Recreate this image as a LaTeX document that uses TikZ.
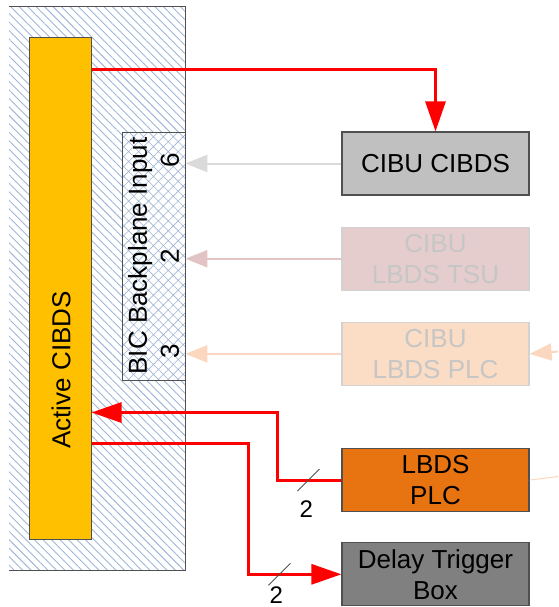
\documentclass[tikz,border=0pt]{standalone}
\usepackage{fontspec}
\setmainfont{Liberation Sans}
\usetikzlibrary{arrows.meta,positioning,patterns.meta}

\definecolor{hatchblue}{RGB}{160,182,214}
\definecolor{activeyellow}{RGB}{255,192,0}
\definecolor{sigred}{RGB}{255,0,0}
\definecolor{frameline}{RGB}{80,80,80}
\definecolor{cibdsgray}{RGB}{192,192,192}
\definecolor{tsupink}{RGB}{230,205,205}
\definecolor{plcpeach}{RGB}{251,220,197}
\definecolor{plcorange}{RGB}{232,116,17}
\definecolor{delaygray}{RGB}{128,128,128}
\definecolor{fadeline}{RGB}{210,210,210}
\definecolor{fadetext}{RGB}{198,198,198}
\definecolor{graywire}{RGB}{218,218,218}
\definecolor{pinkwire}{RGB}{226,196,196}
\definecolor{peachwire}{RGB}{250,215,190}

\begin{document}
\begin{tikzpicture}[x=1pt, y=-1pt,
      backplane/.style={pattern={Lines[angle=-45, distance=6pt, line width=0.9pt]}, pattern color=hatchblue, minimum width=176pt, minimum height=563pt, inner sep=0pt},
      frame/.style={draw=frameline, line width=1.5pt},
      activebar/.style={draw=frameline, fill=activeyellow, line width=1pt, minimum width=62pt, minimum height=501pt, inner sep=0pt},
      bicbox/.style={draw=frameline, line width=1pt, preaction={fill=white}, pattern={Hatch[angle=45, distance=7pt, line width=0.6pt]}, pattern color=hatchblue, rotate=90, minimum width=248pt, minimum height=63pt, inner sep=0pt, align=center, font=\fontsize{26}{32}\selectfont},
      unitbox/.style={draw=frameline, line width=1.2pt, align=center, minimum width=187pt, minimum height=63pt, inner sep=1pt, font=\fontsize{26}{31}\selectfont},
      fadedbox/.style={unitbox, draw=fadeline, text=fadetext},
      sigarrow/.style={draw=sigred, line width=3pt, -{Triangle[length=30pt, width=20pt]}},
      inarrow/.style={line width=2pt, -{Triangle[length=22pt, width=17pt]}},
      busmark/.style={draw=frameline, line width=1pt},
      buslabel/.style={inner sep=0pt, font=\fontsize{24}{24}\selectfont}
    ]
    \useasboundingbox (0,0) rectangle (558,607);
    % crate and inputs
    \node[backplane] (crate) at (97,288.5) {};
    \draw[frame] (crate.north west) -- (crate.north east) -- (crate.south east) -- (crate.south west);
    \node[activebar] (active) at (60,288.5) {};
    \node[rotate=90, inner sep=0pt, font=\fontsize{26}{31}\selectfont] (activetext) at (61,370) {Active CIBDS};
    \node[bicbox] (bicin) at (153.5,256) {BIC Backplane Input\\\makebox[205pt]{3\hfill 2\hfill 6}};
    % user boxes
    \node[unitbox, fill=cibdsgray] (cibds) at (435.5,163.5) {CIBU CIBDS};
    \node[fadedbox, fill=tsupink, below=31pt of cibds] (tsu) {CIBU\\LBDS TSU};
    \node[fadedbox, fill=plcpeach, below=31pt of tsu] (cibuplc) {CIBU\\LBDS PLC};
    \node[unitbox, fill=plcorange, below=62pt of cibuplc] (lbdsplc) {LBDS\\PLC};
    \node[unitbox, fill=delaygray, below=30pt of lbdsplc] (delay) {Delay Trigger\\Box};
    \coordinate (rightin) at (558,351.5);
    \coordinate (rightout) at (558,476.5);
    % faded inputs
    \draw[inarrow, draw=graywire] (cibds.west) -- (cibds.west -| bicin.south);
    \draw[inarrow, draw=pinkwire] (tsu.west) -- (tsu.west -| bicin.south);
    \draw[inarrow, draw=peachwire] (cibuplc.west) -- (cibuplc.west -| bicin.south);
    \draw[inarrow, draw=peachwire] (rightin) -- (cibuplc.east);
    \draw[draw=peachwire, line width=1pt] (lbdsplc.east) -- (rightout);
    % red signals
    \draw[sigarrow] ([yshift=-32pt]active.north east) -| (cibds.north);
    \draw[sigarrow] (lbdsplc.west) -- ++(-64,0) |- ([yshift=-375pt]active.north east);
    \draw[sigarrow] ([yshift=-406pt]active.north east) -- ++(157,0) |- (delay.west);
    % bus widths
    \draw[busmark] ([xshift=-33pt]lbdsplc.west) ++(-11,11) -- ++(22,-22);
    \node[buslabel] (plcbus) at ([xshift=-35pt, yshift=-29pt]lbdsplc.west) {2};
    \draw[busmark] ([xshift=-62pt]delay.west) ++(-11,11) -- ++(22,-22);
    \node[buslabel] (delaybus) at ([xshift=-65pt, yshift=-21pt]delay.west) {2};
  \end{tikzpicture}
\end{document}
